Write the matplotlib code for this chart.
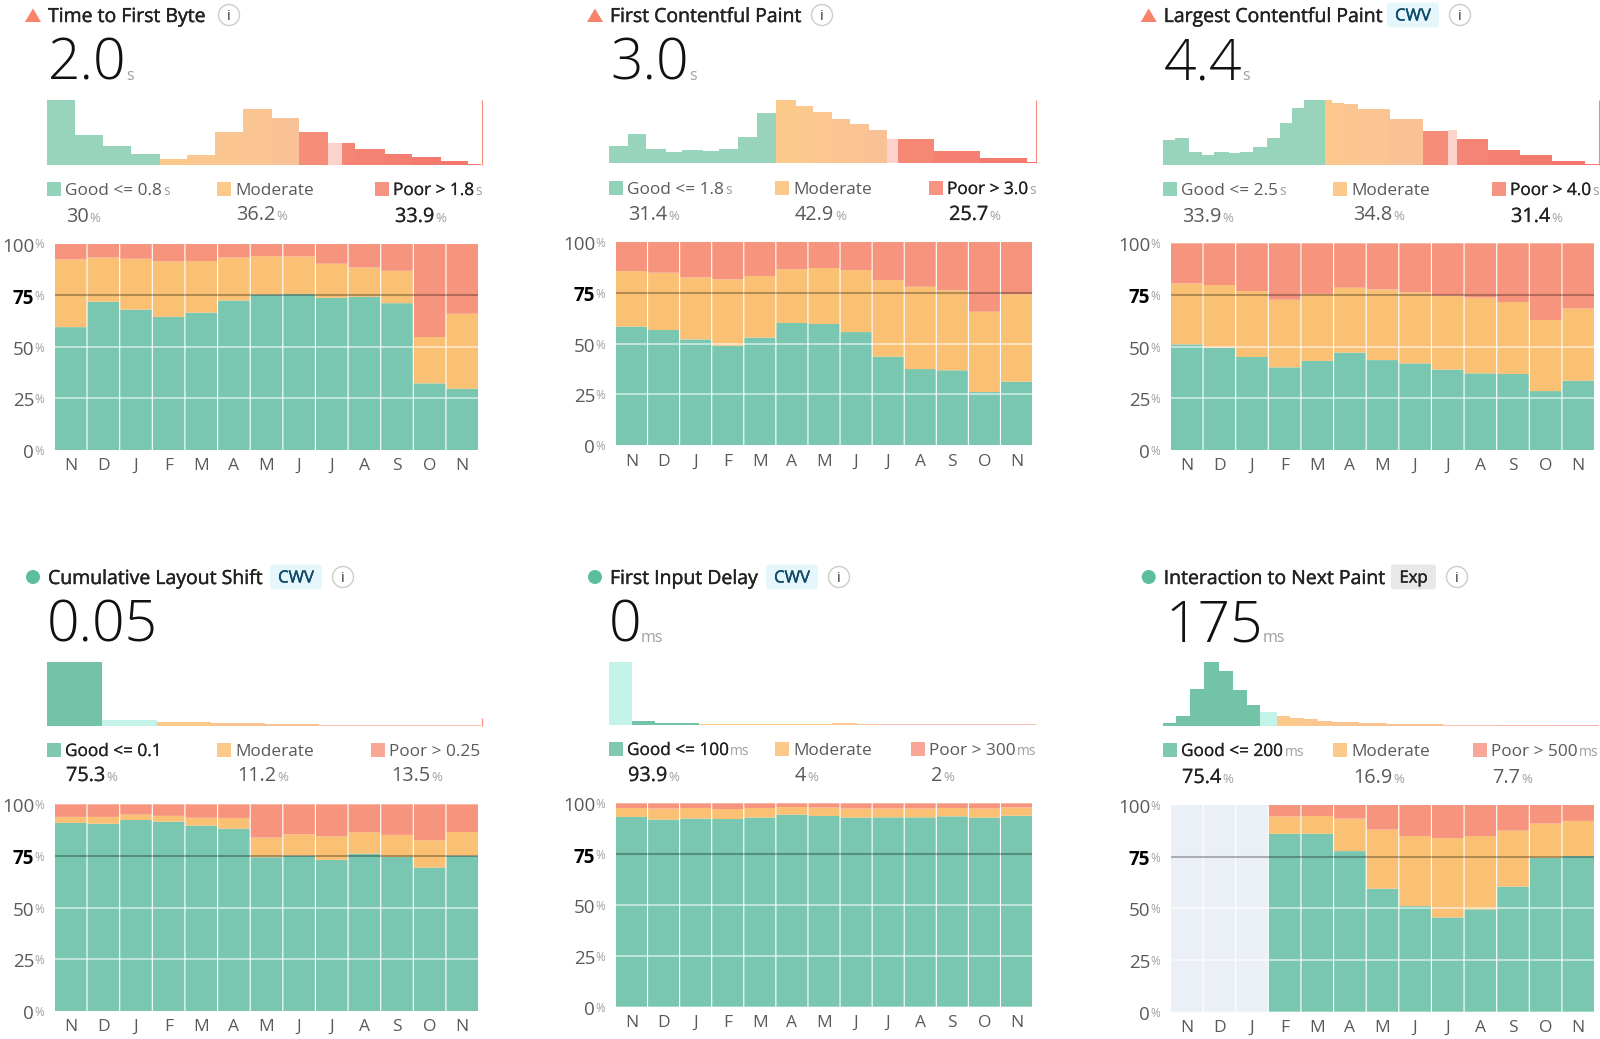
import matplotlib
matplotlib.use('Agg')
import matplotlib.pyplot as plt
import matplotlib.patheffects as pe
import numpy as np
from matplotlib.colors import to_rgb
from matplotlib.patches import Circle, FancyBboxPatch, Polygon
from matplotlib.transforms import ScaledTranslation

W, H = 1600, 1039
plt.rcParams['font.family'] = ['Open Sans', 'DejaVu Sans']

months = ['N', 'D', 'J', 'F', 'M', 'A', 'M', 'J', 'J', 'A', 'S', 'O', 'N']
yticks = [0, 25, 50, 75, 100]

# monthly share of good / moderate sessions, poor is the rest
ttfb_good = [59.5, 71.8, 68, 64.5, 66.5, 72.4, 75.3, 75.5, 73.7, 74.2, 71.1, 32.3, 29.7]
ttfb_moderate = [32.8, 21.4, 24.6, 26.8, 25, 20.8, 18.6, 18.2, 16.5, 14.2, 15.7, 22.4, 36.3]
fcp_good = [58.4, 56.7, 52.1, 49, 53, 60.2, 59.7, 55.7, 43.6, 37.5, 36.9, 26.2, 31.3]
fcp_moderate = [27.3, 28.2, 30.5, 32.6, 30.3, 26.4, 27.5, 30.5, 37.7, 40.5, 39.3, 39.5, 43.0]
lcp_good = [51.1, 49.5, 45, 40, 43.1, 47.1, 43.5, 41.9, 38.9, 37.1, 36.8, 28.5, 33.5]
lcp_moderate = [29.5, 30.3, 31.9, 32.7, 32.4, 31.4, 34.2, 34.4, 35.8, 36.6, 34.8, 34.4, 34.9]
cls_good = [91, 90.6, 92.4, 91.6, 89.7, 88.2, 74.4, 75.2, 73.1, 76.1, 74.5, 69.4, 75.2]
cls_moderate = [2.9, 3.3, 2.6, 2.8, 3.8, 5.2, 9.5, 10.3, 11.4, 10.4, 10.7, 13.2, 11.4]
fid_good = [93.3, 92, 92.5, 92.3, 93, 94.4, 93.8, 93, 93.1, 93.1, 93.6, 93, 93.9]
fid_moderate = [4.4, 5.4, 5.2, 4.9, 4.7, 3.8, 4.1, 4.4, 4.3, 4.4, 4.1, 4.5, 4.1]
inp_good = [np.nan, np.nan, np.nan, 86.1, 86.1, 77.7, 59.5, 51.1, 45.6, 49.5, 60.5, 74.4, 75.3]
inp_moderate = [np.nan, np.nan, np.nan, 8.4, 8.6, 15.7, 28.6, 33.9, 38.4, 35.5, 27.1, 16.6, 17]

# distribution histograms: bin edges (% of the range) and bin heights (% of tallest)
ttfb_edges = [0, 6.4, 12.9, 19.3, 26, 32.2, 38.6, 45.2, 51.7, 58.1, 64.6, 68, 71, 77.8, 84.1, 90.6, 97, 100]
ttfb_heights = [100, 46, 29, 16.5, 9.3, 14, 50, 85.5, 71.5, 50, 34, 34, 24, 16.5, 11.4, 5, 1.5]
ttfb_classes = 'ggggmmmmmpppppppp'
fcp_edges = [0, 4.4, 8.7, 13.3, 17.2, 21.9, 25.8, 30.3, 34.7, 39, 43.7, 47.8, 52.3, 56.4, 60.9, 65.1, 67.6, 76, 87, 97.8, 100]
fcp_heights = [27.5, 46, 23, 17.5, 20.6, 18.5, 21.7, 41.8, 78.8, 100, 90, 81.5, 70.4, 62.4, 53, 38, 38, 19.6, 8, 1.5]
fcp_classes = 'gggggggggmmmmmmppppp'
lcp_edges = [0, 2.9, 6.1, 9, 11.8, 15.2, 17.7, 20.7, 23.9, 26.8, 29.7, 32.5, 37.1, 38.8, 41.6, 44.8, 52.2, 59.6, 65.5, 67.5, 74.6, 82, 89.3, 96.8, 100]
lcp_heights = [38, 41.5, 19.7, 15.5, 19, 18, 19, 26.4, 41.5, 65, 88, 100, 100, 96, 94, 86.5, 70, 52, 53, 39, 22, 14, 6, 1.5]
lcp_classes = 'ggggggggggggmmmmmppppppp'
cls_edges = [0, 12.6, 25.3, 37.7, 50.2, 62.7, 100]
cls_heights = [100, 8.8, 5.7, 4.7, 3, 1]
cls_classes = 'ggmmmp'
fid_edges = [0, 5.4, 10.7, 15.8, 21.1, 52.3, 58, 63, 100]
fid_heights = [100, 6, 2.6, 2, 1.2, 1.8, 1.2, 1]
fid_classes = 'ggggmmmp'
inp_edges = [0, 3, 6.25, 9.45, 12.9, 16.1, 19.3, 22.4, 26.1, 29.1, 32.3, 35.5, 38.7, 45.1, 51.4, 57.9, 64.3, 77.4, 90.1, 100]
inp_heights = [5, 14.5, 57, 100, 86, 56, 32, 21, 14.5, 12, 10, 8, 5.7, 4, 3, 2, 1.3, 1, 0.7]
inp_classes = 'ggggggggmmmmmmmmppp'

# name, value, unit, badge, status, legend labels, legend units, legend shares, current class
panels = [
    dict(title='Time to First Byte', value='2.0', unit='s', badge=None, icon='warn',
         good=ttfb_good, moderate=ttfb_moderate, edges=ttfb_edges, heights=ttfb_heights,
         classes=ttfb_classes, current=10, cutoff=100,
         labels=['Good <= 0.8', 'Moderate', 'Poor > 1.8'], units=['s', '', 's'],
         shares=['30', '36.2', '33.9'], active=2),
    dict(title='First Contentful Paint', value='3.0', unit='s', badge=None, icon='warn',
         good=fcp_good, moderate=fcp_moderate, edges=fcp_edges, heights=fcp_heights,
         classes=fcp_classes, current=15, cutoff=100,
         labels=['Good <= 1.8', 'Moderate', 'Poor > 3.0'], units=['s', '', 's'],
         shares=['31.4', '42.9', '25.7'], active=2),
    dict(title='Largest Contentful Paint', value='4.4', unit='s', badge='CWV', icon='warn',
         good=lcp_good, moderate=lcp_moderate, edges=lcp_edges, heights=lcp_heights,
         classes=lcp_classes, current=18, cutoff=100,
         labels=['Good <= 2.5', 'Moderate', 'Poor > 4.0'], units=['s', '', 's'],
         shares=['33.9', '34.8', '31.4'], active=2),
    dict(title='Cumulative Layout Shift', value='0.05', unit='', badge='CWV', icon='ok',
         good=cls_good, moderate=cls_moderate, edges=cls_edges, heights=cls_heights,
         classes=cls_classes, current=1, cutoff=12,
         labels=['Good <= 0.1', 'Moderate', 'Poor > 0.25'], units=['', '', ''],
         shares=['75.3', '11.2', '13.5'], active=0),
    dict(title='First Input Delay', value='0', unit='ms', badge='CWV', icon='ok',
         good=fid_good, moderate=fid_moderate, edges=fid_edges, heights=fid_heights,
         classes=fid_classes, current=0, cutoff=0,
         labels=['Good <= 100', 'Moderate', 'Poor > 300'], units=['ms', '', 'ms'],
         shares=['93.9', '4', '2'], active=0),
    dict(title='Interaction to Next Paint', value='175', unit='ms', badge='Exp', icon='ok',
         good=inp_good, moderate=inp_moderate, edges=inp_edges, heights=inp_heights,
         classes=inp_classes, current=7, cutoff=0,
         labels=['Good <= 200', 'Moderate', 'Poor > 500'], units=['ms', '', 'ms'],
         shares=['75.4', '16.9', '7.7'], active=0),
]

# page layout in pixels, same order as panels
layout = [
    dict(stack=(55, 243.5, 478, 450), hist=(47, 100, 481.5, 164.5), big=(47.5, 80), title_y=15,
         info=229, badge=None, squares=(47, 217, 375), share_x=(66, 236, 395), legend_y=195,
         share_y=(222, 220, 222)),
    dict(stack=(616, 242, 1032, 445.3), hist=(609, 100, 1036, 163), big=(610.5, 80), title_y=15,
         info=822, badge=None, squares=(609, 775, 929), share_x=(628, 795, 949), legend_y=194,
         share_y=(220, 220, 220)),
    dict(stack=(1171, 243.3, 1594, 450), hist=(1162.7, 100, 1599, 164.5), big=(1163.5, 80), title_y=15,
         info=1460, badge=(1387, 1439), squares=(1163, 1333, 1492), share_x=(1182, 1353, 1511), legend_y=195,
         share_y=(222, 220, 222)),
    dict(stack=(55, 804.3, 478, 1011), hist=(47, 661.7, 481.5, 725.7), big=(46.5, 642), title_y=577,
         info=343, badge=(270, 322), squares=(47, 217, 371), share_x=(66, 237, 391), legend_y=756,
         share_y=(781, 781, 781)),
    dict(stack=(616, 803.3, 1032, 1006.7), hist=(609, 661.7, 1036, 724.5), big=(608.5, 642), title_y=577,
         info=839, badge=(766, 818), squares=(609, 775, 911), share_x=(628, 795, 931), legend_y=755,
         share_y=(781, 781, 781)),
    dict(stack=(1171, 805, 1594, 1011.7), hist=(1162.7, 661.7, 1599, 725.7), big=(1165, 642), title_y=577,
         info=1457, badge=(1391, 1436), squares=(1163, 1333, 1473), share_x=(1182, 1353, 1492), legend_y=756,
         share_y=(783, 783, 783)),
]

GOOD, MODERATE, POOR, BLANK = '#79C7B0', '#FAC074', '#F7947E', '#EBF0F7'
TEXT, GREY, UNIT = '#222222', '#5A5A5A', '#A0A0A0'
BAR_W = 0.965


def px_axes(fig, box):
    x0, y0, x1, y1 = box
    return fig.add_axes([x0 / W, 1 - y1 / H, (x1 - x0) / W, (y1 - y0) / H])


def mix(c1, c2, t):
    return tuple(a + (b - a) * t for a, b in zip(to_rgb(c1), to_rgb(c2)))


def heavier(color, width=0.3):
    return [pe.withStroke(linewidth=width, foreground=color)]


def with_unit(x, y, main, unit, size, unit_size, color=GREY, weight='normal', gap=1, effects=None):
    t = page.text(x, y, main, fontsize=size, color=color, weight=weight, va='baseline',
                  path_effects=effects)
    bb = t.get_window_extent(renderer)
    if unit:
        page.text(bb.x1 + gap, y, unit, fontsize=unit_size, color=UNIT, va='baseline')


def draw_stack(ax, p):
    x = np.arange(13)
    good = np.array(p['good'])
    moderate = np.array(p['moderate'])
    poor = 100 - good - moderate
    empty = np.isnan(good)
    ax.bar(x[empty], 100, width=BAR_W, color=BLANK, snap=False)
    ax.bar(x[~empty], good[~empty], width=BAR_W, color=GOOD, snap=False)
    ax.bar(x[~empty], moderate[~empty], bottom=good[~empty], width=BAR_W, color=MODERATE, snap=False)
    ax.bar(x[~empty], poor[~empty], bottom=(good + moderate)[~empty], width=BAR_W, color=POOR, snap=False)
    ax.hlines([25, 50], -0.62, 12.6, color='white', alpha=0.68, lw=1.1, clip_on=False)
    ax.hlines(75, -BAR_W / 2, 12 + BAR_W / 2, color='black', alpha=0.28, lw=1.5)
    ax.set_xlim(-BAR_W / 2, 12 + BAR_W / 2)
    ax.set_ylim(0, 100)
    ax.set_xticks(x, months)
    ax.set_yticks(yticks, [str(v) for v in yticks])
    ax.tick_params(axis='x', length=0, pad=6, labelsize=12.5, labelcolor=GREY)
    ax.tick_params(axis='y', length=0, pad=15, labelsize=13.5, labelcolor=GREY)
    ax.get_yticklabels()[3].set(color='black', weight='bold')
    nudge = ScaledTranslation(0, -1 / 100, fig.dpi_scale_trans)
    for label in ax.get_yticklabels():
        label.set_transform(label.get_transform() + nudge)
    for v in yticks:
        ax.annotate('%', xy=(0, v), xycoords=ax.get_yaxis_transform(), xytext=(-15, -1),
                    textcoords='offset points', fontsize=8.5, color=UNIT, va='center')
    for s in ax.spines.values():
        s.set_visible(False)


def draw_hist(ax, p, row):
    edges = np.array(p['edges'])
    heights = np.array(p['heights'])
    classes = p['classes']
    colors = []
    n_mod = classes.count('m')
    n_poor = classes.count('p')
    i_mod = i_poor = 0
    for c in classes:
        if c == 'g':
            colors.append('#98D3BB' if row == 0 else '#72C3A8')
        elif c == 'm':
            colors.append(mix('#FCC98B', '#F9C296', i_mod / max(n_mod - 1, 1)))
            i_mod += 1
        else:
            colors.append(mix('#F58D79', '#F4736A', i_poor / max(n_poor - 1, 1)))
            i_poor += 1
    colors[p['current']] = '#FBD3CB' if row == 0 else '#C3F3E8'
    if row == 1:
        colors = [mix(c, 'white', 0.45) if classes[i] == 'p' else c for i, c in enumerate(colors)]
    ax.bar(edges[:-1], heights, width=np.diff(edges), align='edge', color=colors, lw=0)
    if p['cutoff']:
        ax.vlines(100, 0, p['cutoff'], color='#F58D79', lw=0.8, clip_on=False)
    ax.set_xlim(0, 100)
    ax.set_ylim(0, 100)
    ax.axis('off')


fig = plt.figure(figsize=(W / 100, H / 100), dpi=100)
renderer = fig.canvas.get_renderer()
page = fig.add_axes([0, 0, 1, 1], zorder=5)
page.set_xlim(0, W)
page.set_ylim(H, 0)
page.axis('off')

legend_good = ['#91D2B9', '#7FC9B2']
legend_poor = ['#F69382', '#F8A796']

for n, (p, lay) in enumerate(zip(panels, layout)):
    row = n // 3
    left = lay['hist'][0]
    y = lay['title_y']

    draw_stack(px_axes(fig, lay['stack']), p)
    draw_hist(px_axes(fig, lay['hist']), p, row)

    # status icon, title, badge, info
    ix = left - 14
    if p['icon'] == 'warn':
        page.add_patch(Polygon([(ix, y - 6.5), (ix + 8, y + 7), (ix - 8, y + 7)], color='#F8836B', lw=0))
    else:
        page.add_patch(Circle((ix, y), 7, color='#5DBE9F', lw=0))
    page.text(left + 1, y + 7, p['title'], fontsize=14, color=TEXT, va='baseline',
              path_effects=heavier(TEXT))
    if p['badge']:
        bx0, bx1 = lay['badge']
        bg = '#E6F6FD' if p['badge'] == 'CWV' else '#E8E8E8'
        fg = '#0D4A66' if p['badge'] == 'CWV' else TEXT
        page.add_patch(FancyBboxPatch((bx0 + 2, y - 10.5), bx1 - bx0 - 4, 21,
                                      boxstyle='round,pad=2,rounding_size=3', color=bg, lw=0))
        page.text((bx0 + bx1) / 2, y + 5.5, p['badge'], fontsize=12, color=fg, ha='center', va='baseline',
                  path_effects=heavier(fg))
    page.add_patch(Circle((lay['info'], y), 10.5, fc='white', ec='#CCCCCC', lw=1))
    page.text(lay['info'], y + 5, 'i', fontsize=10.5, color='#333333', ha='center', va='baseline')

    # headline value
    with_unit(lay['big'][0], lay['big'][1], p['value'], p['unit'], 41, 11.5, color='#111111',
              weight='light', gap=0)

    # legend
    swatches = [legend_good[row], '#FCC98A', legend_poor[row]]
    for k in range(3):
        sx = lay['squares'][k]
        page.add_patch(plt.Rectangle((sx, lay['legend_y'] - 13.5), 14, 14, color=swatches[k], lw=0))
        on = k == p['active']
        fx = heavier(TEXT, 0.15) if on else None
        with_unit(sx + 18, lay['legend_y'], p['labels'][k], p['units'][k], 12.4, 10,
                  color=TEXT if on else GREY, effects=fx)
        with_unit(lay['share_x'][k], lay['share_y'][k], p['shares'][k], '%', 14.3, 9.5,
                  color=TEXT if on else GREY, effects=fx)

fig.savefig('out.png', dpi=100)
